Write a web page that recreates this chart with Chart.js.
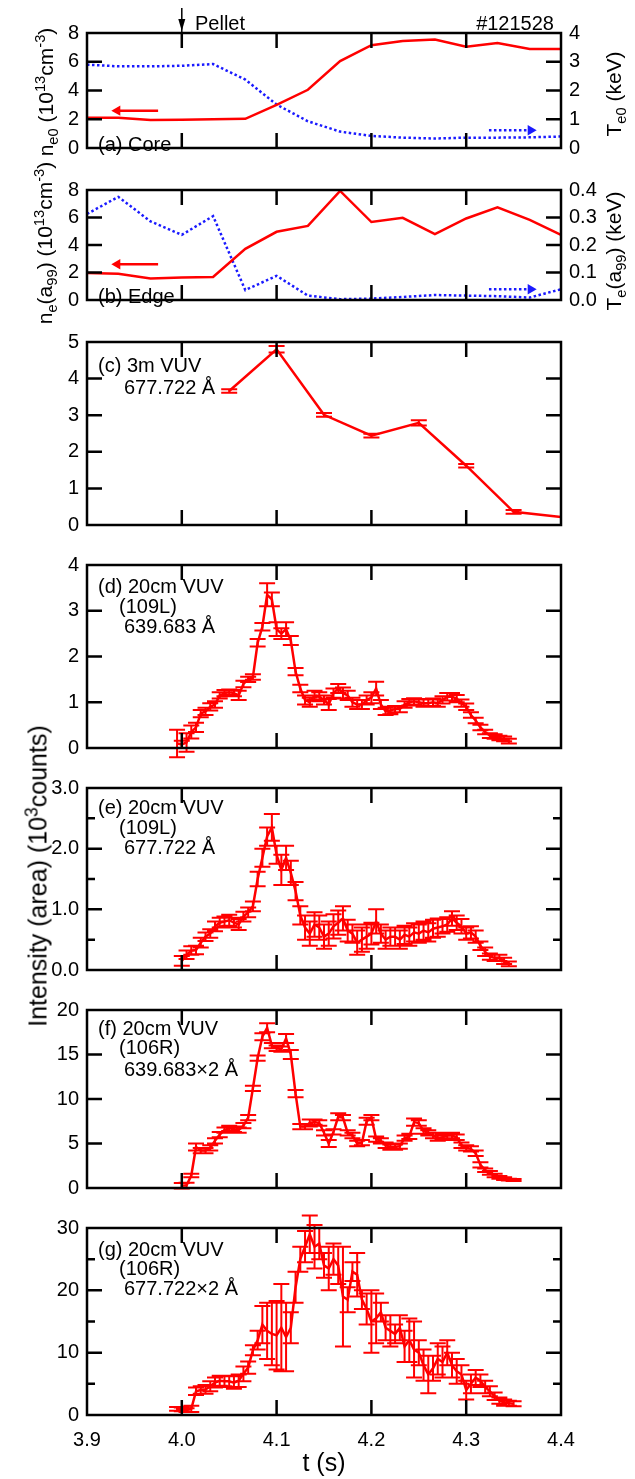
<!DOCTYPE html>
<html>
<head>
<meta charset="utf-8">
<title>#121528 pellet injection</title>
<script src="https://cdn.jsdelivr.net/npm/chart.js@4.4.1/dist/chart.umd.min.js"></script>
<style>
    html, body { margin: 0; padding: 0; background: #fff; }
    #page { position: relative; width: 635px; height: 1479px; overflow: hidden;
            font-family: "Liberation Sans", Arial, sans-serif; color: #000; }
    #page canvas { position: absolute; left: 0; }
    .txt { position: absolute; white-space: nowrap; line-height: 1; transform: translateY(-50%); }
    .rtxt { position: absolute; white-space: nowrap; line-height: 1; transform: translateY(-50%) translateX(-100%); }
    .vtxt { position: absolute; white-space: nowrap; line-height: 1; transform: translate(-50%, -50%) rotate(-90deg); }
    sub, sup { font-size: 70%; line-height: 0; }
</style>
</head>
<body>
<div id="page"></div>
<script>
'use strict';

// ---- data ----
// (a), (b): Thomson profiles, every ~33 ms
var T_SLOW   = [3.9, 3.933, 3.967, 4.0, 4.033, 4.067, 4.1, 4.133, 4.167, 4.2, 4.233, 4.267, 4.3, 4.333, 4.367, 4.4];
var NE_CORE  = [2.1, 2.1, 1.95, 1.97, 2.0, 2.03, 3.0, 4.05, 6.05, 7.15, 7.45, 7.55, 7.05, 7.3, 6.88, 6.88];
var TE_CORE  = [2.9, 2.84, 2.84, 2.86, 2.92, 2.38, 1.51, 0.93, 0.57, 0.42, 0.36, 0.33, 0.36, 0.36, 0.37, 0.4];
var NE_EDGE  = [1.96, 1.91, 1.57, 1.63, 1.67, 3.72, 4.96, 5.39, 7.93, 5.67, 5.98, 4.8, 5.93, 6.74, 5.83, 4.74];
var TE_EDGE  = [0.313, 0.375, 0.286, 0.237, 0.305, 0.036, 0.088, 0.016, 0.003, 0.005, 0.011, 0.018, 0.016, 0.014, 0.009, 0.039];

// (c): 3m VUV
var T_3M = [4.05, 4.1, 4.15, 4.2, 4.25, 4.3, 4.35, 4.4];
var I_3M = [3.66, 4.8, 3.01, 2.44, 2.79, 1.62, 0.36, 0.22];
var E_3M = [0.05, 0.09, 0.05, 0.05, 0.07, 0.05, 0.05, 0];

// (d)-(g): 20cm VUV, 5 ms frames
var T_FAST = [3.995, 4.000, 4.005, 4.010, 4.015, 4.020, 4.025, 4.030, 4.035, 4.040,
              4.045, 4.050, 4.055, 4.060, 4.065, 4.070, 4.075, 4.080, 4.085, 4.090,
              4.095, 4.100, 4.105, 4.110, 4.115, 4.120, 4.125, 4.130, 4.135, 4.140,
              4.145, 4.150, 4.155, 4.160, 4.165, 4.170, 4.175, 4.180, 4.185, 4.190,
              4.195, 4.200, 4.205, 4.210, 4.215, 4.220, 4.225, 4.230, 4.235, 4.240,
              4.245, 4.250, 4.255, 4.260, 4.265, 4.270, 4.275, 4.280, 4.285, 4.290,
              4.295, 4.300, 4.305, 4.310, 4.315, 4.320, 4.325, 4.330, 4.335, 4.340,
              4.345, 4.350];

var I_D = [0.10, 0.08, 0.12, 0.35, 0.45, 0.75, 0.80, 0.90, 0.95, 1.15,
           1.20, 1.22, 1.20, 1.15, 1.40, 1.50, 1.55, 2.30, 2.65, 3.35,
           3.25, 2.60, 2.50, 2.60, 2.35, 1.67, 1.30, 1.05, 1.00, 1.15,
           1.12, 1.05, 0.95, 1.20, 1.30, 1.20, 1.15, 1.00, 0.95, 0.95,
           1.05, 1.10, 1.30, 0.95, 0.80, 0.82, 0.85, 0.85, 0.95, 1.00,
           1.02, 1.00, 0.98, 0.98, 1.00, 0.98, 1.05, 1.12, 1.12, 1.08,
           0.98, 0.90, 0.72, 0.60, 0.45, 0.35, 0.27, 0.25, 0.22, 0.20,
           0.15, null];
var E_D = [0.30, 0.08, 0.20, 0.14, 0.10, 0.08, 0.08, 0.08, 0.07, 0.07,
           0.07, 0.06, 0.07, 0.10, 0.07, 0.06, 0.06, 0.08, 0.08, 0.25,
           0.15, 0.15, 0.12, 0.15, 0.10, 0.08, 0.08, 0.10, 0.10, 0.10,
           0.10, 0.10, 0.12, 0.10, 0.10, 0.12, 0.10, 0.10, 0.10, 0.10,
           0.10, 0.12, 0.15, 0.10, 0.08, 0.08, 0.07, 0.07, 0.07, 0.07,
           0.07, 0.07, 0.08, 0.08, 0.08, 0.08, 0.08, 0.08, 0.08, 0.08,
           0.08, 0.07, 0.06, 0.06, 0.06, 0.05, 0.05, 0.05, 0.05, 0.05,
           0.05, null];

var I_E = [null, 0.15, 0.25, 0.32, 0.33, 0.45, 0.55, 0.60, 0.72, 0.78,
           0.80, 0.82, 0.78, 0.75, 0.88, 0.95, 1.05, 1.50, 1.85, 2.20,
           2.35, 1.90, 1.65, 1.85, 1.60, 1.30, 0.90, 0.70, 0.60, 0.75,
           0.70, 0.55, 0.60, 0.72, 0.78, 0.85, 0.65, 0.60, 0.45, 0.50,
           0.55, 0.60, 0.80, 0.60, 0.50, 0.55, 0.55, 0.50, 0.58, 0.55,
           0.62, 0.60, 0.65, 0.62, 0.68, 0.70, 0.72, 0.75, 0.85, 0.78,
           0.72, 0.60, 0.62, 0.55, 0.40, 0.30, 0.22, 0.20, 0.20, 0.15,
           0.10, null];
var E_E = [null, 0.08, 0.07, 0.07, 0.07, 0.08, 0.07, 0.07, 0.08, 0.08,
           0.08, 0.09, 0.08, 0.09, 0.08, 0.08, 0.08, 0.12, 0.15, 0.15,
           0.22, 0.15, 0.25, 0.20, 0.20, 0.15, 0.15, 0.20, 0.20, 0.20,
           0.20, 0.20, 0.20, 0.20, 0.20, 0.20, 0.18, 0.15, 0.20, 0.20,
           0.20, 0.18, 0.20, 0.15, 0.15, 0.15, 0.15, 0.15, 0.15, 0.15,
           0.15, 0.15, 0.15, 0.15, 0.15, 0.15, 0.12, 0.12, 0.12, 0.12,
           0.12, 0.10, 0.10, 0.10, 0.07, 0.07, 0.05, 0.05, 0.05, 0.05,
           0.04, null];

var I_F = [null, 0.25, 0.30, 1.40, 4.60, 4.20, 4.20, 4.50, 5.30, 6.00,
           6.50, 6.70, 6.60, 6.50, 7.00, 7.90, 11.2, 14.6, 17.0, 18.0,
           16.0, 15.7, 15.6, 16.8, 15.0, 10.6, 6.9, 6.9, 7.3, 7.4,
           7.3, 6.2, 5.0, 6.3, 8.0, 7.9, 6.2, 5.9, 5.0, 5.1,
           7.5, 7.9, 5.5, 5.3, 4.8, 4.6, 4.6, 4.7, 5.6, 5.8,
           7.4, 7.3, 6.4, 6.2, 5.9, 5.6, 5.7, 5.9, 5.9, 5.7,
           4.8, 4.5, 4.4, 3.9, 2.6, 2.0, 1.7, 1.4, 1.2, 1.05,
           0.95, 0.9];
var E_F = [null, 0.3, 0.3, 0.2, 0.4, 0.3, 0.3, 0.3, 0.3, 0.3,
           0.3, 0.3, 0.3, 0.3, 0.3, 0.3, 0.3, 0.3, 0.4, 0.5,
           0.3, 0.3, 0.3, 0.5, 0.5, 0.4, 0.3, 0.3, 0.4, 0.3,
           0.3, 0.3, 0.4, 0.3, 0.4, 0.3, 0.3, 0.3, 0.3, 0.3,
           0.4, 0.3, 0.3, 0.3, 0.3, 0.3, 0.3, 0.3, 0.3, 0.3,
           0.4, 0.3, 0.3, 0.3, 0.3, 0.3, 0.3, 0.3, 0.3, 0.3,
           0.3, 0.3, 0.3, 0.3, 0.3, 0.2, 0.2, 0.2, 0.15, 0.15,
           0.1, 0.1];

var I_G = [1.0, 0.9, 0.8, 1.0, 3.8, 4.0, 4.1, 4.6, 5.2, 5.5,
           5.4, 5.4, 5.2, 5.5, 6.6, 7.6, 10.4, 12.0, 14.5, 13.5,
           13.0, 12.8, 14.0, 12.5, 14.0, 20.5, 25.0, 27.0, 29.0, 27.0,
           27.5, 24.0, 23.5, 25.0, 24.0, 19.0, 18.5, 23.0, 22.5, 18.5,
           17.0, 15.0, 15.5, 16.5, 14.0, 13.5, 13.0, 14.0, 11.0, 12.0,
           10.5, 10.0, 8.0, 6.5, 7.5, 9.0, 8.5, 10.0, 8.0, 7.0,
           6.5, 4.0, 5.0, 6.0, 5.5, 4.5, 3.8, 3.0, 2.3, 2.0,
           1.9, 1.8];
var E_G = [0.3, 0.3, 0.3, 0.5, 0.6, 0.6, 0.7, 0.8, 0.8, 0.8,
           0.8, 0.9, 1.0, 1.0, 1.2, 1.0, 0.8, 1.5, 3.0, 4.5,
           5.0, 5.5, 7.0, 5.5, 2.5, 2.5, 2.0, 2.5, 3.0, 3.5,
           2.5, 2.0, 3.5, 2.5, 3.0, 8.0, 2.0, 1.5, 3.5, 1.5,
           2.5, 5.0, 4.0, 1.5, 2.0, 2.5, 1.5, 2.0, 2.5, 3.5,
           4.5, 2.0, 2.5, 3.0, 2.0, 2.5, 2.5, 2.0, 2.0, 2.0,
           1.5, 1.5, 1.5, 1.2, 1.0, 1.0, 0.8, 0.6, 0.5, 0.5,
           0.4, 0.4];

var X_TICKS = [4.0, 4.1, 4.2, 4.3];

// ---- look ----
var FONT = '"Liberation Sans", Arial, sans-serif';
var RED = '#ff0000';
var BLUE = '#1a1aff';
var MAJOR = 15, MINOR = 8, CAP = 8;
var TICK_SIZE = 20;

Chart.defaults.font.family = FONT;
Chart.defaults.color = '#000';
Chart.defaults.animation = false;

var page = document.getElementById('page');

/**
 * Build {x, y} points (and matching errors), dropping empty frames
 */
function series(ts, vs, es) {
    var pts = [], errs = [];
    ts.forEach(function(t, i) {
        if (vs[i] === null || vs[i] === undefined) return;
        pts.push({ x: t, y: vs[i] });
        errs.push(es ? es[i] : 0);
    });
    return { pts: pts, errs: errs };
}

function lineSet(s, color, axis, dashed) {
    return {
        data: s.pts,
        errors: s.errs,
        yAxisID: axis || 'y',
        borderColor: color,
        backgroundColor: color,
        borderWidth: 2.5,
        borderDash: dashed ? [2.5, 2.5] : [],
        pointRadius: 0,
        tension: 0
    };
}

// little direction arrows in (a) and (b)
function arrowSet(from, to, y, color, dashed) {
    return {
        data: [{ x: from, y: y }, { x: to, y: y }],
        borderColor: color,
        backgroundColor: color,
        borderWidth: 2.5,
        borderDash: dashed ? [2.5, 2.5] : [],
        pointStyle: 'triangle',
        pointRadius: [0, 6],
        pointRotation: to < from ? -90 : 90,
        pointBorderWidth: 0,
        pointBackgroundColor: color
    };
}

function yAxis(min, max, step, pos, digits) {
    return {
        type: 'linear', position: pos, min: min, max: max,
        grid: { display: false, drawTicks: false },
        border: { display: false },
        ticks: {
            stepSize: step, padding: 8, color: '#000',
            font: { family: FONT, size: TICK_SIZE },
            callback: function(v) { return digits ? v.toFixed(digits) : String(Math.round(v)); }
        },
        afterFit: function(s) { s.width = pos === 'left' ? 87 : 74; }
    };
}

var errorBars = {
    id: 'errorBars',
    afterDatasetsDraw: function(chart) {
        var ctx = chart.ctx, xs = chart.scales.x;
        chart.data.datasets.forEach(function(ds) {
            if (!ds.errors) return;
            var ys = chart.scales[ds.yAxisID];
            ctx.save();
            ctx.strokeStyle = ds.borderColor;
            ctx.lineWidth = 2;
            ctx.beginPath();
            ds.data.forEach(function(p, i) {
                var e = ds.errors[i];
                if (!e) return;
                var px = xs.getPixelForValue(p.x);
                var top = ys.getPixelForValue(p.y + e);
                var bot = ys.getPixelForValue(p.y - e);
                ctx.moveTo(px, top); ctx.lineTo(px, bot);
                ctx.moveTo(px - CAP, top); ctx.lineTo(px + CAP, top);
                ctx.moveTo(px - CAP, bot); ctx.lineTo(px + CAP, bot);
            });
            ctx.stroke();
            ctx.restore();
        });
    }
};

/**
 * Box and inward tick marks, drawn on the chart's own scales
 */
function frame(cfg) {
    return {
        id: 'frame',
        afterDatasetsDraw: function(chart) {
            var a = chart.chartArea, ctx = chart.ctx, xs = chart.scales.x;
            var yl = chart.scales.y, yr = chart.scales[cfg.rightAxis || 'y'];
            ctx.save();
            ctx.strokeStyle = '#000';
            ctx.fillStyle = '#000';
            ctx.lineWidth = 2.5;
            ctx.beginPath();
            X_TICKS.forEach(function(v) {
                var px = xs.getPixelForValue(v);
                ctx.moveTo(px, a.bottom); ctx.lineTo(px, a.bottom - MAJOR);
                ctx.moveTo(px, a.top); ctx.lineTo(px, a.top + MAJOR);
            });
            function side(scale, vals, len, x0, dir) {
                (vals || []).forEach(function(v) {
                    var py = scale.getPixelForValue(v);
                    ctx.moveTo(x0, py); ctx.lineTo(x0 + dir * len, py);
                });
            }
            side(yl, cfg.leftMajor, MAJOR, a.left, 1);
            side(yl, cfg.leftMinor, MINOR, a.left, 1);
            side(yr, cfg.rightMajor || cfg.leftMajor, MAJOR, a.right, -1);
            side(yr, cfg.rightMinor || cfg.leftMinor, MINOR, a.right, -1);
            ctx.stroke();
            ctx.strokeRect(a.left, a.top, a.right - a.left, a.bottom - a.top);

            if (cfg.pellet) {
                var px = xs.getPixelForValue(cfg.pellet);
                ctx.lineWidth = 1.5;
                ctx.beginPath();
                ctx.moveTo(px, 8); ctx.lineTo(px, a.top);
                ctx.stroke();
                ctx.beginPath();
                ctx.moveTo(px - 3.5, 19); ctx.lineTo(px + 3.5, 19); ctx.lineTo(px, 31);
                ctx.closePath();
                ctx.fill();
            }
            ctx.restore();
        }
    };
}

/**
 * One stacked panel = one canvas
 */
function makePanel(p) {
    var cv = document.createElement('canvas');
    var h = p.canvasBottom - p.canvasTop;
    cv.width = 635;
    cv.height = h;
    cv.style.top = p.canvasTop + 'px';
    cv.style.width = '635px';
    cv.style.height = h + 'px';
    page.appendChild(cv);

    var below = p.canvasBottom - p.bottom;
    var padBottom = below;
    var xScale = { type: 'linear', min: 3.9, max: 4.4, display: false };
    if (p.xLabels) {
        xScale = {
            type: 'linear', min: 3.9, max: 4.4, position: 'bottom',
            grid: { display: false, drawTicks: false },
            border: { display: false },
            ticks: {
                stepSize: 0.1, padding: 13, color: '#000', maxRotation: 0,
                font: { family: FONT, size: TICK_SIZE },
                callback: function(v) { return v.toFixed(1); }
            },
            title: { display: true, text: 't (s)', color: '#000',
                     font: { family: FONT, size: 25 }, padding: { top: 0, bottom: 0 } },
            afterFit: function(s) { s.height = below; }
        };
        padBottom = 0;
    }

    var scales = { x: xScale, y: yAxis(p.yMin, p.yMax, p.yStep, 'left', p.yDigits) };
    var padRight = 74;
    if (p.y2Max) {
        scales.y2 = yAxis(0, p.y2Max, p.y2Step, 'right', p.y2Digits);
        padRight = 0;
    }

    return new Chart(cv.getContext('2d'), {
        type: 'line',
        data: { datasets: p.datasets },
        options: {
            responsive: false,
            maintainAspectRatio: false,
            animation: false,
            events: [],
            layout: { padding: { left: 0, right: padRight, top: p.top - p.canvasTop, bottom: padBottom } },
            plugins: { legend: { display: false }, tooltip: { enabled: false } },
            scales: scales
        },
        plugins: [errorBars, frame(p.frame)]
    });
}

// ---- panels ----
makePanel({
    canvasTop: 0, canvasBottom: 168, top: 33, bottom: 157,
    yMin: 0, yMax: 8, yStep: 2, y2Max: 4, y2Step: 1,
    frame: { leftMajor: [2, 4, 6], rightAxis: 'y2', rightMajor: [1, 2, 3], pellet: 4.0 },
    datasets: [
        lineSet(series(T_SLOW, NE_CORE), RED, 'y'),
        lineSet(series(T_SLOW, TE_CORE), BLUE, 'y2', true),
        arrowSet(3.975, 3.932, 2.6, RED),
        arrowSet(4.324, 4.368, 1.23, BLUE, true)
    ]
});

makePanel({
    canvasTop: 170, canvasBottom: 320, top: 187, bottom: 309,
    yMin: 0, yMax: 8, yStep: 2, y2Max: 0.4, y2Step: 0.1, y2Digits: 1,
    frame: { leftMajor: [2, 4, 6], rightAxis: 'y2', rightMajor: [0.1, 0.2, 0.3] },
    datasets: [
        lineSet(series(T_SLOW, NE_EDGE), RED, 'y'),
        lineSet(series(T_SLOW, TE_EDGE), BLUE, 'y2', true),
        arrowSet(3.975, 3.932, 2.6, RED),
        arrowSet(4.324, 4.368, 0.78, BLUE, true)
    ]
});

makePanel({
    canvasTop: 322, canvasBottom: 545, top: 338, bottom: 531,
    yMin: 0, yMax: 5, yStep: 1,
    frame: { leftMajor: [1, 2, 3, 4] },
    datasets: [lineSet(series(T_3M, I_3M, E_3M), RED)]
});

makePanel({
    canvasTop: 545, canvasBottom: 768, top: 559, bottom: 752,
    yMin: 0, yMax: 4, yStep: 1,
    frame: { leftMajor: [1, 2, 3] },
    datasets: [lineSet(series(T_FAST, I_D, E_D), RED)]
});

makePanel({
    canvasTop: 768, canvasBottom: 990, top: 780, bottom: 973,
    yMin: 0, yMax: 3, yStep: 1, yDigits: 1,
    frame: { leftMajor: [1, 2], leftMinor: [0.5, 1.5, 2.5] },
    datasets: [lineSet(series(T_FAST, I_E, E_E), RED)]
});

makePanel({
    canvasTop: 990, canvasBottom: 1208, top: 1002, bottom: 1194,
    yMin: 0, yMax: 20, yStep: 5,
    frame: { leftMajor: [5, 10, 15] },
    datasets: [lineSet(series(T_FAST, I_F, E_F), RED)]
});

makePanel({
    canvasTop: 1208, canvasBottom: 1479, top: 1220, bottom: 1415, xLabels: true,
    yMin: 0, yMax: 30, yStep: 10,
    frame: { leftMajor: [10, 20], leftMinor: [5, 15, 25] },
    datasets: [lineSet(series(T_FAST, I_G, E_G), RED)]
});

// ---- text ----
var texts = [
    { cls: 'txt',  x: 195, y: 23,  size: 20, html: 'Pellet' },
    { cls: 'rtxt', x: 554, y: 23,  size: 20, html: '#121528' },
    { cls: 'txt',  x: 98,  y: 144, size: 20, html: '(a) Core' },
    { cls: 'txt',  x: 98,  y: 296, size: 20, html: '(b) Edge' },
    { cls: 'txt',  x: 98,  y: 365, size: 20, html: '(c) 3m VUV' },
    { cls: 'txt',  x: 124, y: 387, size: 20, html: '677.722 &Aring;' },
    { cls: 'txt',  x: 98,  y: 586, size: 20, html: '(d) 20cm VUV' },
    { cls: 'txt',  x: 119, y: 606, size: 20, html: '(109L)' },
    { cls: 'txt',  x: 124, y: 626, size: 20, html: '639.683 &Aring;' },
    { cls: 'txt',  x: 98,  y: 807, size: 20, html: '(e) 20cm VUV' },
    { cls: 'txt',  x: 119, y: 827, size: 20, html: '(109L)' },
    { cls: 'txt',  x: 124, y: 847, size: 20, html: '677.722 &Aring;' },
    { cls: 'txt',  x: 98,  y: 1028, size: 20, html: '(f) 20cm VUV' },
    { cls: 'txt',  x: 119, y: 1047, size: 20, html: '(106R)' },
    { cls: 'txt',  x: 124, y: 1069, size: 20, html: '639.683&times;2 &Aring;' },
    { cls: 'txt',  x: 98,  y: 1249, size: 20, html: '(g) 20cm VUV' },
    { cls: 'txt',  x: 119, y: 1268, size: 20, html: '(106R)' },
    { cls: 'txt',  x: 124, y: 1288, size: 20, html: '677.722&times;2 &Aring;' },
    { cls: 'vtxt', x: 45,  y: 92,  size: 21, html: 'n<sub>e0</sub> (10<sup>13</sup>cm<sup>-3</sup>)' },
    { cls: 'vtxt', x: 613, y: 94,  size: 21, html: 'T<sub>e0</sub> (keV)' },
    { cls: 'vtxt', x: 44,  y: 243, size: 21, html: 'n<sub>e</sub>(a<sub>99</sub>) (10<sup>13</sup>cm<sup>-3</sup>)' },
    { cls: 'vtxt', x: 613, y: 251, size: 21, html: 'T<sub>e</sub>(a<sub>99</sub>) (keV)' },
    { cls: 'vtxt', x: 38,  y: 876, size: 25, html: 'Intensity (area) (10<sup>3</sup>counts)' }
];

texts.forEach(function(t) {
    var d = document.createElement('div');
    d.className = t.cls;
    d.style.left = t.x + 'px';
    d.style.top = t.y + 'px';
    d.style.fontSize = t.size + 'px';
    d.innerHTML = t.html;
    page.appendChild(d);
});
</script>
</body>
</html>
